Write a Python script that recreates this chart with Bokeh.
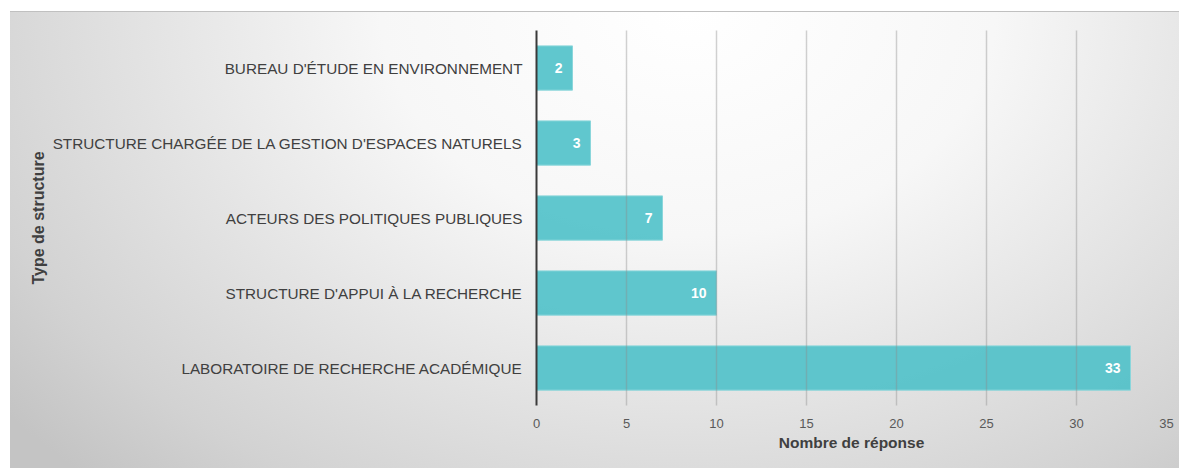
from bokeh.plotting import figure
from bokeh.models import ColumnDataSource, LabelSet, FixedTicker
from bokeh.core.properties import value
from bokeh.embed import file_html
from bokeh.resources import INLINE

categories = [
    "LABORATOIRE DE RECHERCHE ACADÉMIQUE",
    "STRUCTURE D'APPUI À LA RECHERCHE",
    "ACTEURS DES POLITIQUES PUBLIQUES",
    "STRUCTURE CHARGÉE DE LA GESTION D'ESPACES NATURELS",
    "BUREAU D'ÉTUDE EN ENVIRONNEMENT",
]
values = [33, 10, 7, 3, 2]
x_ticks = [0, 5, 10, 15, 20, 25, 30, 35]

src = ColumnDataSource(dict(cat=categories, val=values, lbl=[str(v) for v in values]))

p = figure(
    y_range=categories, x_range=(0, 35),
    width=1169, height=457,
    output_backend="svg", toolbar_location=None,
    min_border_left=526, min_border_right=13, min_border_top=18, min_border_bottom=64,
    background_fill_alpha=0, border_fill_alpha=0,
)
p.styles = {
    "background": "radial-gradient(ellipse 75% 140% at 58% 0%, #ffffff 0%, #f7f7f7 35%, #d2d2d2 85%, #c4c4c4 100%)",
    "border-top": "1px solid #c0c0c0",
    "margin-left": "10px",
    "margin-top": "11px",
}
p.outline_line_color = None

p.hbar(y="cat", right="val", height=0.59, source=src,
       fill_color="#4fc1c9", fill_alpha=0.9, line_color="#8ad6db", line_width=1)

labels = LabelSet(x="val", y="cat", text="lbl", source=src, x_offset=-10,
                  text_align="right", text_baseline="middle", text_color="white",
                  text_font_style="bold", text_font_size="14px",
                  text_font=value("Liberation Sans"))
p.add_layout(labels)

p.xaxis.ticker = FixedTicker(ticks=x_ticks)
p.xaxis.axis_line_color = None
p.xaxis.major_tick_line_color = None
p.xaxis.minor_tick_line_color = None
p.xaxis.major_label_text_font = "Liberation Sans"
p.xaxis.major_label_text_font_size = "13px"
p.xaxis.major_label_text_color = "#595959"
p.xaxis.major_label_standoff = 7
p.xaxis.axis_label = "Nombre de réponse"
p.xaxis.axis_label_text_font = "Liberation Sans"
p.xaxis.axis_label_text_font_size = "15.5px"
p.xaxis.axis_label_text_font_style = "bold"
p.xaxis.axis_label_text_color = "#404040"
p.xaxis.axis_label_standoff = 3

p.yaxis.axis_line_color = "#3a3a3a"
p.yaxis.axis_line_width = 2
p.yaxis.major_tick_line_color = None
p.yaxis.minor_tick_line_color = None
p.yaxis.major_label_text_font = "Liberation Sans"
p.yaxis.major_label_text_font_size = "15.3px"
p.yaxis.major_label_text_color = "#404040"
p.yaxis.major_label_standoff = 8
p.yaxis.axis_label = "Type de structure"
p.yaxis.axis_label_text_font = "Liberation Sans"
p.yaxis.axis_label_text_font_size = "16px"
p.yaxis.axis_label_text_font_style = "bold"
p.yaxis.axis_label_text_color = "#404040"
p.yaxis.axis_label_standoff = 3

p.ygrid.grid_line_color = None
p.xgrid.ticker = FixedTicker(ticks=x_ticks[1:])
p.xgrid.grid_line_color = "#8c8c8c"
p.xgrid.grid_line_alpha = 0.4
p.xgrid.grid_line_width = 1.5
p.xgrid.level = "overlay"

open("out.html", "w").write(file_html(p, INLINE))
